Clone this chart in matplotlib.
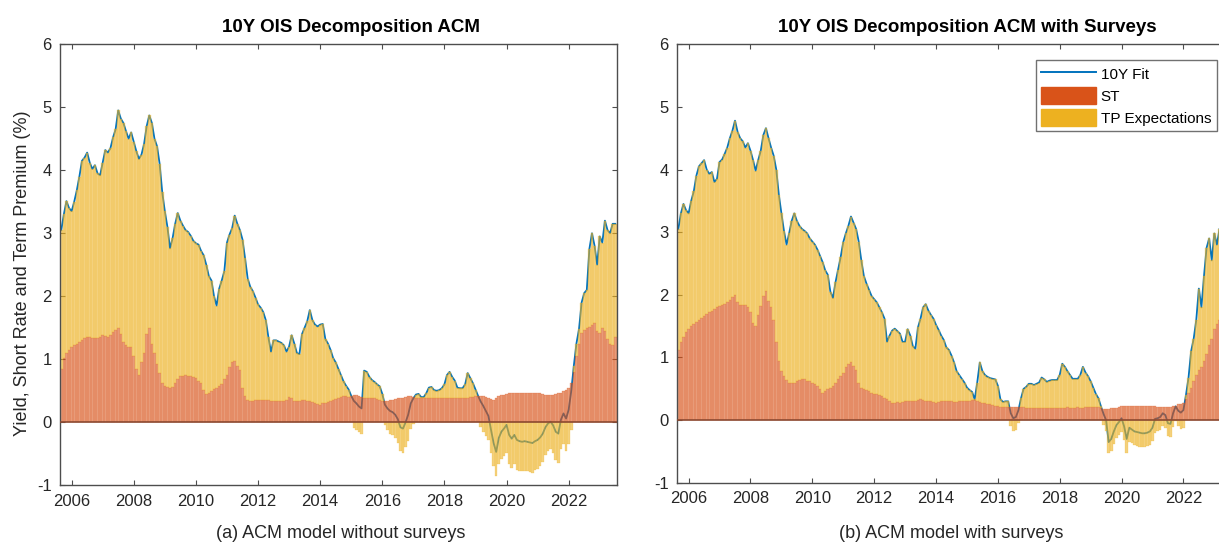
import numpy as np
import matplotlib
matplotlib.use("Agg")
import matplotlib.pyplot as plt
from matplotlib.lines import Line2D
from matplotlib.patches import Patch

plt.rcParams['font.family'] = ['Liberation Sans', 'DejaVu Sans']
plt.rcParams['axes.unicode_minus'] = False

# monthly observations, Sep 2005 onwards (decimal years)
fecha_ini = 2005 + 8 / 12

# 10Y fit, ACM without surveys
fit_a = [
    3.05, 3.30, 3.51, 3.40,
    3.35, 3.50, 3.68, 3.90, 4.15, 4.20, 4.28, 4.12, 4.02, 4.08, 3.95, 3.92,
    4.12, 4.32, 4.28, 4.35, 4.52, 4.65, 4.95, 4.82, 4.75, 4.62, 4.50, 4.60,
    4.45, 4.30, 4.18, 4.25, 4.42, 4.70, 4.87, 4.75, 4.50, 4.38, 4.10, 3.65,
    3.35, 3.10, 2.76, 2.92, 3.15, 3.32, 3.20, 3.12, 3.05, 3.02, 2.96, 2.88,
    2.84, 2.82, 2.72, 2.65, 2.50, 2.32, 2.25, 2.00, 1.85, 2.12, 2.25, 2.40,
    2.85, 2.98, 3.08, 3.28, 3.15, 3.05, 2.90, 2.60, 2.28, 2.15, 2.08, 1.98,
    1.87, 1.82, 1.75, 1.62, 1.35, 1.12, 1.30, 1.30, 1.28, 1.26, 1.22, 1.12,
    1.20, 1.38, 1.25, 1.10, 1.08, 1.40, 1.50, 1.60, 1.78, 1.62, 1.55, 1.52,
    1.55, 1.56, 1.32, 1.25, 1.15, 1.02, 0.95, 0.85, 0.75, 0.65, 0.58, 0.52,
    0.42, 0.34, 0.30, 0.25, 0.22, 0.82, 0.80, 0.72, 0.67, 0.64, 0.60, 0.57,
    0.45, 0.28, 0.22, 0.18, 0.16, 0.12, 0.05, -0.08, -0.10, 0.00, 0.12, 0.30,
    0.38, 0.44, 0.45, 0.40, 0.40, 0.46, 0.55, 0.56, 0.51, 0.50, 0.51, 0.54,
    0.60, 0.75, 0.80, 0.72, 0.66, 0.55, 0.54, 0.54, 0.60, 0.78, 0.70, 0.62,
    0.52, 0.42, 0.33, 0.26, 0.18, 0.10, -0.12, -0.33, -0.47, -0.25, -0.15, -0.10,
    -0.04, -0.20, -0.26, -0.20, -0.28, -0.30, -0.31, -0.30, -0.31, -0.32, -0.33, -0.30,
    -0.28, -0.24, -0.18, -0.08, -0.02, 0.01, -0.05, -0.15, -0.18, 0.04, 0.14, 0.06,
    0.20, 0.50, 0.90, 1.25, 1.48, 1.90, 2.05, 2.10, 2.75, 3.00, 2.80, 2.50,
    2.95, 2.85, 3.20, 3.05, 3.00, 3.15, 3.15,
]

# short rate expectations, ACM without surveys
st_a = [
    0.85, 1.02, 1.10, 1.15,
    1.20, 1.22, 1.25, 1.28, 1.30, 1.33, 1.35, 1.36, 1.34, 1.34, 1.33, 1.35,
    1.38, 1.37, 1.36, 1.38, 1.43, 1.46, 1.50, 1.40, 1.28, 1.22, 1.20, 1.20,
    1.05, 0.85, 0.75, 0.95, 1.10, 1.40, 1.50, 1.25, 1.10, 0.92, 0.78, 0.62,
    0.58, 0.56, 0.54, 0.56, 0.62, 0.68, 0.73, 0.74, 0.75, 0.74, 0.73, 0.72,
    0.70, 0.66, 0.62, 0.52, 0.45, 0.47, 0.50, 0.53, 0.55, 0.58, 0.60, 0.68,
    0.75, 0.88, 0.95, 0.97, 0.90, 0.83, 0.55, 0.42, 0.36, 0.34, 0.33, 0.35,
    0.36, 0.36, 0.35, 0.36, 0.35, 0.34, 0.33, 0.34, 0.33, 0.33, 0.34, 0.36,
    0.40, 0.38, 0.34, 0.33, 0.34, 0.36, 0.35, 0.34, 0.33, 0.32, 0.30, 0.29,
    0.28, 0.30, 0.30, 0.32, 0.33, 0.35, 0.37, 0.38, 0.40, 0.41, 0.41, 0.40,
    0.41, 0.43, 0.43, 0.41, 0.40, 0.38, 0.38, 0.38, 0.38, 0.38, 0.37, 0.36,
    0.34, 0.33, 0.34, 0.36, 0.36, 0.37, 0.38, 0.38, 0.39, 0.40, 0.41, 0.41,
    0.40, 0.39, 0.38, 0.38, 0.38, 0.38, 0.38, 0.38, 0.38, 0.38, 0.38, 0.38,
    0.38, 0.38, 0.38, 0.38, 0.38, 0.38, 0.38, 0.38, 0.39, 0.39, 0.40, 0.40,
    0.41, 0.41, 0.41, 0.41, 0.40, 0.38, 0.37, 0.36, 0.38, 0.41, 0.43, 0.44,
    0.45, 0.46, 0.46, 0.47, 0.47, 0.47, 0.47, 0.47, 0.47, 0.47, 0.47, 0.46,
    0.46, 0.46, 0.45, 0.44, 0.43, 0.43, 0.44, 0.45, 0.46, 0.47, 0.49, 0.51,
    0.55, 0.62, 0.80, 1.05, 1.25, 1.42, 1.47, 1.50, 1.52, 1.55, 1.58, 1.45,
    1.42, 1.50, 1.45, 1.32, 1.25, 1.22, 1.35,
]

# 10Y fit, ACM with surveys (visible part only)
fit_b = [
    3.05, 3.30, 3.45, 3.35,
    3.30, 3.50, 3.65, 3.90, 4.05, 4.10, 4.15, 4.00, 3.93, 3.96, 3.80, 3.85,
    4.12, 4.16, 4.25, 4.35, 4.50, 4.62, 4.78, 4.60, 4.50, 4.45, 4.35, 4.42,
    4.30, 4.15, 3.98, 4.15, 4.30, 4.55, 4.66, 4.50, 4.35, 4.22, 4.00, 3.60,
    3.30, 3.02, 2.80, 2.98, 3.18, 3.30, 3.18, 3.10, 3.05, 3.02, 2.98, 2.90,
    2.85, 2.80, 2.72, 2.62, 2.52, 2.39, 2.32, 2.05, 1.95, 2.20, 2.40, 2.60,
    2.84, 2.98, 3.10, 3.25, 3.15, 3.05, 2.85, 2.55, 2.30, 2.18, 2.08, 1.98,
    1.93, 1.88, 1.80, 1.72, 1.62, 1.25, 1.35, 1.43, 1.46, 1.42, 1.38, 1.25,
    1.25, 1.45, 1.35, 1.18, 1.14, 1.48, 1.62, 1.80, 1.85, 1.75, 1.68, 1.62,
    1.52, 1.44, 1.35, 1.28, 1.16, 1.12, 1.03, 0.92, 0.78, 0.72, 0.66, 0.60,
    0.52, 0.48, 0.45, 0.33, 0.60, 0.92, 0.78, 0.72, 0.69, 0.67, 0.66, 0.65,
    0.55, 0.33, 0.29, 0.30, 0.30, 0.11, 0.03, 0.05, 0.16, 0.35, 0.50, 0.53,
    0.58, 0.58, 0.56, 0.58, 0.60, 0.68, 0.65, 0.61, 0.63, 0.64, 0.64, 0.64,
    0.72, 0.90, 0.85, 0.78, 0.72, 0.66, 0.66, 0.66, 0.72, 0.85, 0.76, 0.70,
    0.62, 0.52, 0.42, 0.35, 0.22, 0.10, 0.00, -0.35, -0.30, -0.18, -0.08, -0.03,
    0.03, -0.10, -0.30, -0.12, -0.15, -0.18, -0.19, -0.20, -0.21, -0.21, -0.20, -0.18,
    -0.12, 0.02, 0.03, 0.05, 0.11, 0.08, -0.05, -0.06, 0.11, 0.22, 0.15, 0.12,
    0.16, 0.40, 0.68, 1.10, 1.30, 1.60, 2.10, 1.80, 2.30, 2.75, 2.90, 2.55,
    2.98, 2.80, 3.05,
]

# short rate expectations, ACM with surveys
st_b = [
    1.12, 1.24, 1.32, 1.40,
    1.46, 1.50, 1.53, 1.56, 1.60, 1.63, 1.66, 1.69, 1.72, 1.75, 1.78, 1.80,
    1.82, 1.84, 1.86, 1.88, 1.92, 1.97, 2.00, 1.88, 1.84, 1.83, 1.83, 1.80,
    1.72, 1.55, 1.50, 1.68, 1.82, 1.98, 2.06, 1.90, 1.80, 1.60, 1.25, 0.95,
    0.78, 0.70, 0.64, 0.60, 0.60, 0.60, 0.62, 0.64, 0.66, 0.65, 0.63, 0.62,
    0.60, 0.58, 0.55, 0.50, 0.44, 0.47, 0.50, 0.52, 0.55, 0.60, 0.66, 0.70,
    0.75, 0.85, 0.90, 0.92, 0.86, 0.80, 0.60, 0.52, 0.50, 0.48, 0.46, 0.44,
    0.42, 0.41, 0.40, 0.38, 0.36, 0.34, 0.30, 0.28, 0.28, 0.29, 0.28, 0.29,
    0.30, 0.31, 0.31, 0.31, 0.31, 0.32, 0.33, 0.32, 0.31, 0.31, 0.30, 0.29,
    0.28, 0.29, 0.30, 0.31, 0.31, 0.31, 0.30, 0.29, 0.29, 0.30, 0.30, 0.31,
    0.31, 0.31, 0.32, 0.32, 0.30, 0.29, 0.28, 0.27, 0.26, 0.25, 0.24, 0.23,
    0.22, 0.21, 0.21, 0.21, 0.21, 0.21, 0.21, 0.21, 0.21, 0.21, 0.21, 0.20,
    0.20, 0.20, 0.20, 0.20, 0.20, 0.20, 0.20, 0.20, 0.20, 0.20, 0.20, 0.20,
    0.20, 0.20, 0.20, 0.21, 0.20, 0.20, 0.20, 0.21, 0.20, 0.20, 0.21, 0.21,
    0.21, 0.21, 0.21, 0.21, 0.20, 0.18, 0.17, 0.18, 0.19, 0.20, 0.20, 0.21,
    0.22, 0.22, 0.22, 0.23, 0.22, 0.22, 0.22, 0.23, 0.22, 0.22, 0.22, 0.22,
    0.22, 0.22, 0.21, 0.21, 0.21, 0.21, 0.21, 0.21, 0.22, 0.23, 0.25, 0.26,
    0.28, 0.33, 0.43, 0.52, 0.62, 0.72, 0.80, 0.85, 0.95, 1.06, 1.20, 1.30,
    1.45, 1.54, 1.60,
]

anios_ticks = list(range(2006, 2023, 2))
y_ticks = list(range(-1, 7))

AZUL = '#0072BD'
NARANJA = '#D95319'
AMARILLO = '#EDB120'
GRIS = '#262626'


def dibujar_panel(ax, fit, st):
    fit = np.array(fit)
    st = np.array(st)
    t = fecha_ini + np.arange(len(fit)) / 12
    tp = fit - st
    base_tp = np.where(tp >= 0, st, 0)

    ax.plot(t, fit, color=AZUL, lw=1.3, zorder=1)
    ax.bar(t, st, width=1 / 12, color=NARANJA, edgecolor=NARANJA,
           linewidth=0.25, alpha=0.58, zorder=2)
    ax.bar(t, tp, bottom=base_tp, width=1 / 12, color=AMARILLO,
           edgecolor=AMARILLO, linewidth=0.25, alpha=0.58, zorder=2)
    ax.axhline(0, color='#8c4a32', lw=1.2, zorder=3)

    ax.set_xlim(fecha_ini - 1 / 24, fecha_ini + 214 / 12 + 1 / 24)
    ax.set_ylim(-1, 6)
    ax.set_xticks(anios_ticks)
    ax.set_xticklabels([str(a) for a in anios_ticks])
    ax.set_yticks(y_ticks)
    ax.set_yticklabels([str(v) for v in y_ticks])
    ax.tick_params(direction='in', top=True, right=True, length=3.5,
                   width=0.8, colors='#4d4d4d', labelcolor=GRIS,
                   labelsize=12, pad=6)
    for sp in ax.spines.values():
        sp.set_color('#4d4d4d')
        sp.set_linewidth(1.0)


fig = plt.figure(figsize=(12.19, 5.43), dpi=100)

ax1 = fig.add_axes([0.0492, 0.1063, 0.4566, 0.8122])
dibujar_panel(ax1, fit_a, st_a)

# right panel runs past the edge of the picture, as in the original
ax2 = fig.add_axes([0.5554, 0.1109, 0.4545, 0.8076])
dibujar_panel(ax2, fit_b, st_b)

fig.text(0.288, 0.949, '10Y OIS Decomposition ACM', ha='center', va='center',
         fontsize=13.5, fontweight='bold')
fig.text(0.7933, 0.949, '10Y OIS Decomposition ACM with Surveys', ha='center',
         va='center', fontsize=13.5, fontweight='bold')
fig.text(0.2794, 0.018, '(a) ACM model without surveys', ha='center',
         va='center', fontsize=13, color=GRIS)
fig.text(0.780, 0.018, '(b) ACM model with surveys', ha='center',
         va='center', fontsize=13, color=GRIS)
fig.text(0.0185, 0.4963, 'Yield, Short Rate and Term Premium (%)',
         rotation=90, ha='center', va='center', fontsize=13, color=GRIS)

handles = [Line2D([0], [0], color=AZUL, lw=1.4),
           Patch(facecolor=NARANJA, edgecolor=NARANJA),
           Patch(facecolor=AMARILLO, edgecolor=AMARILLO)]
leg = fig.legend(handles, ['10Y Fit', 'ST', 'TP Expectations'],
                 loc='upper right', bbox_to_anchor=(0.998, 0.890),
                 bbox_transform=fig.transFigure, fontsize=11, frameon=True,
                 fancybox=False, handlelength=3.6, handleheight=1.3,
                 handletextpad=0.3, labelspacing=0.35, borderpad=0.35,
                 borderaxespad=0)
leg.get_frame().set_edgecolor('#4d4d4d')
leg.get_frame().set_linewidth(1.0)

fig.savefig('out.png', dpi=100)
